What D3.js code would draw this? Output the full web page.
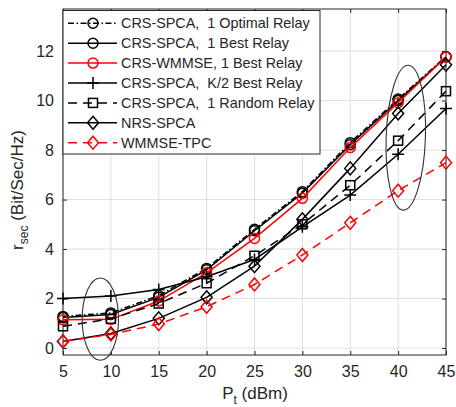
<!DOCTYPE html>
<html>
<head>
<meta charset="utf-8">
<script src="https://cdn.jsdelivr.net/npm/d3@7/dist/d3.min.js"></script>
<style>
  html, body { margin: 0; padding: 0; background: #fff; }
  text { font-family: "Liberation Sans", Arial, sans-serif; fill: #262626; white-space: pre; }
</style>
</head>
<body>
<svg id="chart" width="456" height="407"></svg>
<script>
// ---- data ----
const powers = [5, 10, 15, 20, 25, 30, 35, 40, 45];
const optimalSPCA = [1.28, 1.42, 2.12, 3.22, 4.80, 6.32, 8.30, 10.06, 11.78];
const bestSPCA    = [1.24, 1.36, 2.05, 3.16, 4.74, 6.26, 8.22, 10.00, 11.76];
const bestWMMSE   = [1.14, 1.16, 1.90, 3.04, 4.43, 6.05, 8.10, 9.91, 11.76];
const halfKSPCA   = [2.00, 2.10, 2.37, 2.88, 3.58, 4.90, 6.18, 7.83, 9.68];
const randomSPCA  = [0.88, 1.18, 1.80, 2.62, 3.73, 5.00, 6.58, 8.38, 10.38];
const nrsSPCA     = [0.27, 0.59, 1.20, 2.05, 3.31, 5.20, 7.26, 9.48, 11.45];
const wmmseTPC    = [0.27, 0.55, 0.97, 1.67, 2.57, 3.76, 5.06, 6.36, 7.49];
const seriesNames = [
  "CRS-SPCA,  1 Optimal Relay",
  "CRS-SPCA,  1 Best Relay",
  "CRS-WMMSE, 1 Best Relay",
  "CRS-SPCA,  K/2 Best Relay",
  "CRS-SPCA,  1 Random Relay",
  "NRS-SPCA",
  "WMMSE-TPC"
];
const xTicks = [5, 10, 15, 20, 25, 30, 35, 40, 45];
const yTicks = [0, 2, 4, 6, 8, 10, 12];
// annotation ellipses: center (x,y) in data units, radii in data units, tilt in degrees
const ellipseCx = [8.9, 40.8];
const ellipseCy = [1.17, 8.5];
const ellipseRx = [1.9, 2.05];
const ellipseRy = [1.66, 2.93];
const ellipseTilt = [0, 2];

// ---- styles ----
const styles = [
  {color: "#000", dash: "6,2.5,1.5,2.5", marker: "circle"},
  {color: "#000", dash: null, marker: "circle"},
  {color: "#ff0000", dash: null, marker: "circle"},
  {color: "#000", dash: null, marker: "plus"},
  {color: "#000", dash: "9,6", marker: "square"},
  {color: "#000", dash: null, marker: "diamond"},
  {color: "#ff0000", dash: "9,6", marker: "diamond"}
];
const seriesValues = [optimalSPCA, bestSPCA, bestWMMSE, halfKSPCA, randomSPCA, nrsSPCA, wmmseTPC];

const svg = d3.select("#chart");
const L = 63, R = 446, T = 9, B = 355;
const x = d3.scaleLinear().domain([5, 45]).range([L, R]);
const y = d3.scaleLinear().domain([-0.28, 13.7]).range([B, T]);
const axisColor = "#262626";

// grid
const g = svg.append("g");
g.selectAll(".vg").data(xTicks).enter().append("line")
  .attr("x1", d => x(d)).attr("x2", d => x(d)).attr("y1", T).attr("y2", B)
  .attr("stroke", "#dfdfdf").attr("stroke-width", 1);
g.selectAll(".hg").data(yTicks).enter().append("line")
  .attr("x1", L).attr("x2", R).attr("y1", d => y(d)).attr("y2", d => y(d))
  .attr("stroke", "#dfdfdf").attr("stroke-width", 1);

// axes (ticks inside)
const xAxisB = d3.axisBottom(x).tickValues(xTicks).tickSize(-4).tickPadding(11);
const xAxisT = d3.axisTop(x).tickValues(xTicks).tickSize(-4).tickFormat("");
const yAxisL = d3.axisLeft(y).tickValues(yTicks).tickSize(-4).tickPadding(9);
const yAxisR = d3.axisRight(y).tickValues(yTicks).tickSize(-4).tickFormat("");
function styleAxis(sel) {
  sel.select(".domain").remove();
  sel.selectAll("line").attr("stroke", axisColor);
  sel.selectAll("text").attr("fill", axisColor).style("font-size", "16px")
     .style("font-family", "'Liberation Sans', Arial, sans-serif");
}
svg.append("g").attr("transform", `translate(0,${B})`).call(xAxisB).call(styleAxis);
svg.append("g").attr("transform", `translate(0,${T})`).call(xAxisT).call(styleAxis);
svg.append("g").attr("transform", `translate(${L},0)`).call(yAxisL).call(styleAxis);
svg.append("g").attr("transform", `translate(${R},0)`).call(yAxisR).call(styleAxis);
svg.append("rect").attr("x", L).attr("y", T).attr("width", R - L).attr("height", B - T)
  .attr("fill", "none").attr("stroke", axisColor).attr("stroke-width", 1);

// markers
function drawMarker(sel, type, color, cx, cy) {
  if (type === "circle") {
    sel.append("circle").attr("cx", cx).attr("cy", cy).attr("r", 5)
      .attr("fill", "none").attr("stroke", color).attr("stroke-width", 1.5);
  } else if (type === "square") {
    sel.append("rect").attr("x", cx - 4.5).attr("y", cy - 4.5).attr("width", 9).attr("height", 9)
      .attr("fill", "none").attr("stroke", color).attr("stroke-width", 1.5);
  } else if (type === "diamond") {
    sel.append("path").attr("d", `M${cx},${cy - 6.5}L${cx + 5.5},${cy}L${cx},${cy + 6.5}L${cx - 5.5},${cy}Z`)
      .attr("fill", "none").attr("stroke", color).attr("stroke-width", 1.5);
  } else if (type === "plus") {
    sel.append("path").attr("d", `M${cx - 6},${cy}H${cx + 6}M${cx},${cy - 6}V${cy + 6}`)
      .attr("fill", "none").attr("stroke", color).attr("stroke-width", 1.5);
  }
}

const line = d3.line().x((d, i) => x(powers[i])).y(d => y(d));
const plot = svg.append("g");
seriesValues.forEach((vals, k) => {
  const st = styles[k];
  const sg = plot.append("g");
  sg.append("path").datum(vals).attr("d", line)
    .attr("fill", "none").attr("stroke", st.color).attr("stroke-width", 1.5)
    .attr("stroke-dasharray", st.dash);
  vals.forEach((v, i) => drawMarker(sg, st.marker, st.color, x(powers[i]), y(v)));
});

// ellipses
ellipseCx.forEach((cx, i) => {
  const px = x(cx), py = y(ellipseCy[i]);
  svg.append("ellipse").attr("cx", px).attr("cy", py)
    .attr("rx", x(5 + ellipseRx[i]) - x(5)).attr("ry", y(0) - y(ellipseRy[i]))
    .attr("transform", `rotate(${ellipseTilt[i]},${px},${py})`)
    .attr("fill", "none").attr("stroke", "#333").attr("stroke-width", 1.1);
});

// legend
const lg = svg.append("g");
const lgX = 63, lgY = 10.5, lgW = 257, lgH = 143.5, rowH = 19.9;
lg.append("rect").attr("x", lgX).attr("y", lgY).attr("width", lgW).attr("height", lgH)
  .attr("fill", "#fff").attr("stroke", axisColor).attr("stroke-width", 1);
seriesNames.forEach((name, k) => {
  const st = styles[k];
  const cy = 23.3 + k * rowH;
  lg.append("line").attr("x1", 68).attr("x2", 117).attr("y1", cy).attr("y2", cy)
    .attr("stroke", st.color).attr("stroke-width", 1.5).attr("stroke-dasharray", st.dash);
  drawMarker(lg, st.marker, st.color, 93, cy);
  lg.append("text").attr("x", 121).attr("y", cy).attr("dy", "0.35em")
    .style("font-size", "14.4px").attr("fill", "#000").text(name);
});

// axis labels
const xl = svg.append("text").attr("x", 255).attr("y", 399).attr("text-anchor", "middle")
  .style("font-size", "17px");
xl.append("tspan").text("P");
xl.append("tspan").attr("dy", 5).style("font-size", "12px").text("t");
xl.append("tspan").attr("dy", -5).text(" (dBm)");

const yl = svg.append("text").attr("transform", "translate(23,190) rotate(-90)")
  .attr("text-anchor", "middle").style("font-size", "17px");
yl.append("tspan").text("r");
yl.append("tspan").attr("dy", 5).style("font-size", "12px").text("sec");
yl.append("tspan").attr("dy", -5).text(" (Bit/Sec/Hz)");
</script>
</body>
</html>
